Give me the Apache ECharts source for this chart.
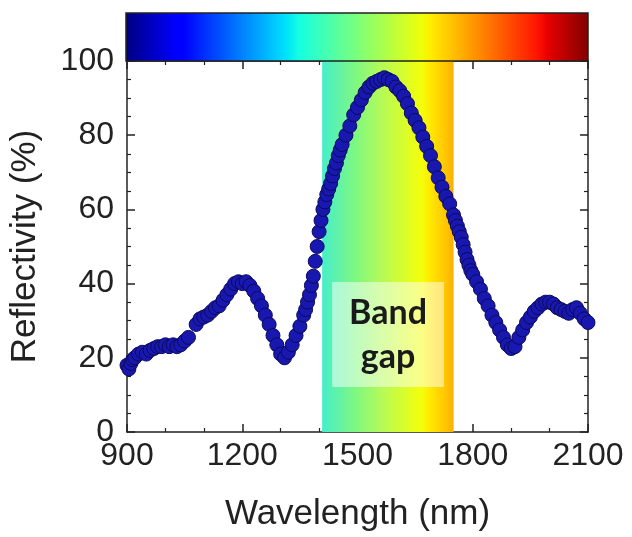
<!DOCTYPE html>
<html>
<head>
<meta charset="utf-8">
<style>html,body{margin:0;padding:0;background:#fff;}#c{width:632px;height:537px;}</style>
<script src="https://cdn.jsdelivr.net/npm/echarts@6/dist/echarts.min.js"></script>
</head>
<body>
<div id="c"></div>
<script>
// Wavelength (nm)
const wavelength = [900,905,910,915,920,930,940,950,960,970,980,990,1000,1010,1020,1030,1040,1050,1060,
1080,1090,1100,1110,1120,1130,1140,1150,1160,1170,1180,1190,1200,1210,1220,1230,1240,1250,1260,1270,1280,1290,1300,1310,1320,1330,1340,1350,1360,
1365,1370,1375,1380,1385,1390,1395,1400,1405,1410,1415,1420,1425,1430,1435,1440,1445,1450,1455,1460,
1470,1480,1490,1500,1510,1520,1530,1540,1550,1560,1570,1580,1590,1600,1610,1620,1630,1640,1650,1660,1670,1680,1690,1700,1710,1720,1730,1740,1750,
1755,1760,1765,1770,1775,1780,1785,1790,1795,1800,
1810,1820,1830,1840,1850,1860,1870,1880,1890,1900,1910,1920,1930,1940,1950,1960,1970,1980,1990,2000,2010,2020,2030,2040,2050,2060,2070,2080,2090,2100];
// Reflectivity (%)
const reflectivity = [18,17,18.5,19.5,20,21,21.5,21,22,22.5,23,23,23.5,23,23.5,23,23.5,24.5,25.5,
29,30.5,31,31.5,32.5,33.5,34,35.5,37,38.5,40,40.5,40,40.5,39.5,38,36,34,31.5,29,26,23.5,21,20,21.5,23.5,26,28.5,31.5,
33,35,37,39.5,42,46,50,54,57,60,62,64,65.5,67,69,71,72.5,74.5,76,77.5,
80,82.5,85.5,87.5,89.5,91.5,93,94,94.5,95,95.5,95,94.5,93,92,90.5,88.5,86,84,82,79.5,77,74.5,71.5,68.5,66,63.5,61.5,58.5,
57,55.5,54,52.5,50.5,48.5,46.5,45,43.5,42.5,
40.5,38.5,36,34,31.5,29.5,27.5,25.5,23.5,22.5,23,25.5,27.5,29.5,31,32.5,33.5,34.5,35,35,34.5,33.5,33,32.5,32,33,33.5,32,30.5,29.5];
const xTicks = [900,1200,1500,1800,2100];
const yTicks = [0,20,40,60,80,100];
const bandGap = [1408, 1750];
const labelBox = [[1434, 40.4], [1725, 12.1]];
const bandLabel = 'Band\ngap';
const xTitle = 'Wavelength (nm)';
const yTitle = 'Reflectivity (%)';

const chart = echarts.init(document.getElementById('c'), null, {renderer:'canvas'});
const pts = wavelength.map((w,i)=>[w, reflectivity[i]]);

const jetStops = [
 {offset:0, color:'#000080'},{offset:0.11, color:'#0000ff'},{offset:0.125, color:'#0000ff'},
 {offset:0.34, color:'#00dbff'},{offset:0.35, color:'#00e6f7'},{offset:0.375, color:'#14ffe2'},
 {offset:0.64, color:'#efff08'},{offset:0.65, color:'#f7f500'},{offset:0.66, color:'#ffec00'},
 {offset:0.89, color:'#ff1300'},{offset:0.91, color:'#e80000'},{offset:1, color:'#800000'}
];
const bandStops = [
 {offset:0, color:'#46eecb'},{offset:0.263, color:'#80f87e'},{offset:0.45, color:'#b4fa58'},
 {offset:0.755, color:'#f4ff0a'},{offset:0.825, color:'#ffe800'},{offset:0.95, color:'#ffc200'},{offset:1, color:'#fbae00'}
];

const fontF = '"Liberation Sans", Arial, sans-serif';
const axisCommon = {
  axisLine:{show:true, onZero:false, lineStyle:{color:'#222', width:1.5}},
  splitLine:{show:false},
};
const option = {
  animation:false,
  grid:{left:127, top:61, width:461, height:371, containLabel:false},
  xAxis:[
    Object.assign({type:'value', min:900, max:2100, interval:300, position:'bottom',
      axisTick:{show:true, inside:true, length:8, lineStyle:{color:'#222', width:1.5}},
      minorTick:{show:true, splitNumber:3, length:4, lineStyle:{color:'#222', width:1.2}},
      axisLabel:{fontSize:32, color:'#222', fontFamily:fontF, margin:8,
        formatter:v=> xTicks.includes(v)? String(v):''},
      name:xTitle, nameLocation:'middle', nameGap:65,
      nameTextStyle:{fontSize:35, color:'#222', fontFamily:fontF}}, axisCommon),
    Object.assign({type:'value', min:900, max:2100, interval:300, position:'top',
      axisTick:{show:true, inside:true, length:8, lineStyle:{color:'#222', width:1.5}},
      minorTick:{show:true, splitNumber:3, length:4, lineStyle:{color:'#222', width:1.2}},
      axisLabel:{show:false}}, axisCommon)
  ],
  yAxis:[
    Object.assign({type:'value', min:0, max:100, interval:20, position:'left',
      axisTick:{show:true, inside:true, length:8, lineStyle:{color:'#222', width:1.5}},
      minorTick:{show:true, splitNumber:4, length:4, lineStyle:{color:'#222', width:1.2}},
      axisLabel:{fontSize:32, color:'#222', fontFamily:fontF, margin:13,
        formatter:v=> yTicks.includes(v)? String(v):''},
      name:yTitle, nameLocation:'middle', nameGap:84, nameRotate:90,
      nameTextStyle:{fontSize:35, color:'#222', fontFamily:fontF}}, axisCommon),
    Object.assign({type:'value', min:0, max:100, interval:20, position:'right',
      axisTick:{show:true, inside:true, length:8, lineStyle:{color:'#222', width:1.5}},
      minorTick:{show:true, splitNumber:4, length:4, lineStyle:{color:'#222', width:1.2}},
      axisLabel:{show:false}}, axisCommon)
  ],
  series:[{
    type:'scatter', xAxisIndex:0, yAxisIndex:0,
    data:pts, symbolSize:14,
    itemStyle:{color:'#1818b0', borderColor:'#0a0a5a', borderWidth:1, opacity:1},
    markArea:{
      silent:true,
      data:[
        [{xAxis:bandGap[0], itemStyle:{color:new echarts.graphic.LinearGradient(0,0,1,0,bandStops), opacity:1}},{xAxis:bandGap[1]}],
        [{xAxis:labelBox[0][0], yAxis:labelBox[0][1], itemStyle:{color:'rgba(255,255,255,0.5)'},
          label:{show:true, position:'inside', formatter:bandLabel, fontSize:34, fontWeight:'bold',
            fontFamily:'Lato, "Open Sans", sans-serif', lineHeight:44, color:'#1a1a1a'}},
         {xAxis:labelBox[1][0], yAxis:labelBox[1][1]}]
      ]
    }
  }]
};
chart.setOption(option);
const p0 = chart.convertToPixel({xAxisIndex:0, yAxisIndex:0},[900,100]);
const p1 = chart.convertToPixel({xAxisIndex:0, yAxisIndex:0},[2100,100]);
chart.setOption({graphic:[{
  type:'rect', shape:{x:p0[0]-1, y:13, width:p1[0]-p0[0]+1, height:p0[1]-13},
  style:{fill:new echarts.graphic.LinearGradient(0,0,1,0,jetStops), stroke:'#222', lineWidth:1.5}, z:10
}]});
</script>
</body>
</html>
